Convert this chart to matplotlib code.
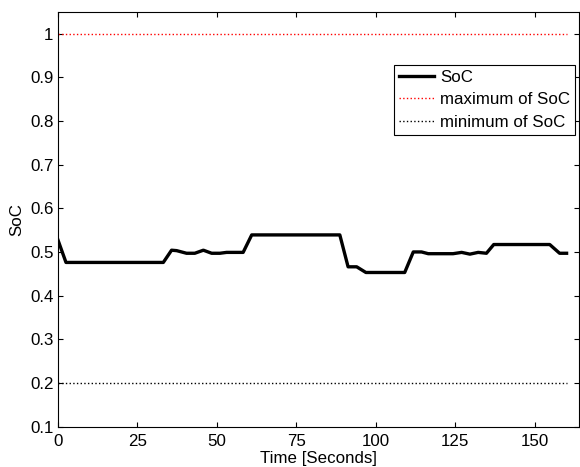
import matplotlib.pyplot as plt

# state of charge over time
t = [0, 2.6, 33.2, 35.8, 37.4, 40.5, 43.1, 45.8, 48.4, 51, 53.1, 58.3, 61,
     88.7, 91.3, 94, 96.9, 109.1, 111.8, 114.4, 116.5, 124.3, 127, 129.6,
     132.2, 134.8, 137.1, 154.7, 157.8, 160]
soc = [0.529, 0.476, 0.476, 0.504, 0.503, 0.497, 0.497, 0.504, 0.497, 0.497,
       0.499, 0.499, 0.539, 0.539, 0.466, 0.466, 0.453, 0.453, 0.500, 0.500,
       0.496, 0.496, 0.499, 0.495, 0.499, 0.497, 0.517, 0.517, 0.497, 0.497]
soc_max = 1.0
soc_min = 0.2
t_end = [0, 160]

plt.rcParams['font.family'] = ['Liberation Sans', 'DejaVu Sans']
plt.rcParams['font.size'] = 12.2

fig = plt.figure(figsize=(5.8, 4.67), dpi=100)
ax = fig.add_axes([0.0995, 0.0863, 0.8993, 0.8887])

ax.plot(t, soc, color='black', lw=2.4, label='SoC')
ax.plot(t_end, [soc_max, soc_max], color='red', ls=':', lw=1.0, label='maximum of SoC')
ax.plot(t_end, [soc_min, soc_min], color='black', ls=':', lw=1.0, label='minimum of SoC')

ax.set_xlim(0, 164)
ax.set_ylim(0.1, 1.05)
ax.set_xticks([0, 25, 50, 75, 100, 125, 150])
ax.set_yticks([0.1, 0.2, 0.3, 0.4, 0.5, 0.6, 0.7, 0.8, 0.9, 1])
ax.set_yticklabels(['0.1', '0.2', '0.3', '0.4', '0.5', '0.6', '0.7', '0.8', '0.9', '1'])
ax.tick_params(direction='in', top=True, right=True, length=3.5, width=0.8)
ax.tick_params(axis='x', pad=5)
ax.tick_params(axis='y', pad=3)
for s in ax.spines.values():
    s.set_linewidth(0.8)

ax.set_xlabel('Time [Seconds]', labelpad=2)
ax.set_ylabel('SoC', labelpad=4)

leg = ax.legend(loc='upper right', bbox_to_anchor=(0.992, 0.8716), borderaxespad=0,
                fancybox=False, edgecolor='black', framealpha=1,
                handlelength=2.1, handletextpad=0.35, labelspacing=0.45,
                borderpad=0.28)
leg.get_frame().set_linewidth(0.8)

fig.savefig('out.png', dpi=100)
